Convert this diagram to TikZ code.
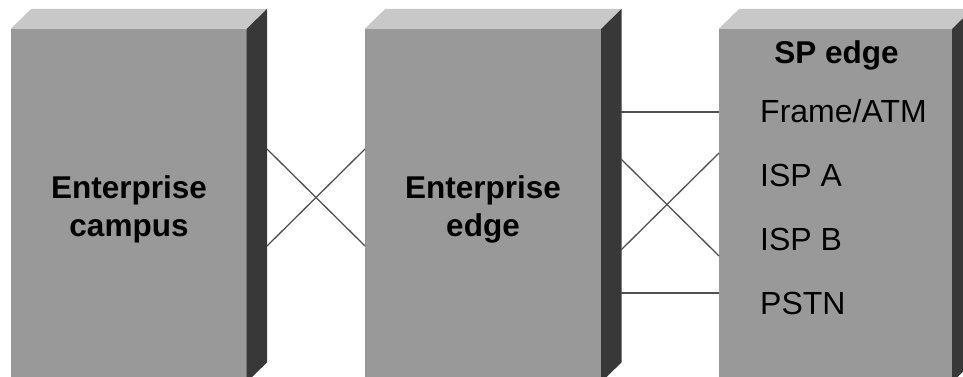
\documentclass[tikz,border=0pt]{standalone}
\usepackage{fontspec}
\setmainfont{Liberation Sans}
\begin{document}
\begin{tikzpicture}[x=1pt,y=-1pt,
  front/.style={fill=frontc,draw=none,inner sep=0pt,minimum height=353pt},
  topface/.style={fill=topc},
  sideface/.style={fill=sidec},
  link/.style={draw=linkc,line width=1.3pt},
  boldtxt/.style={font=\fontsize{31.5}{34}\selectfont\bfseries,inner sep=0pt,anchor=base},
  plaintxt/.style={font=\fontsize{32}{35}\selectfont,inner sep=0pt,anchor=base west}]
\definecolor{frontc}{HTML}{999999}
\definecolor{topc}{HTML}{C8C8C8}
\definecolor{sidec}{HTML}{383838}
\definecolor{linkc}{HTML}{505050}
\useasboundingbox (0,0) rectangle (963,377);
\clip (0,0) rectangle (963,377);
% boxes
\node[front,minimum width=235.5pt] (f1) at (128.75,205.5) {};
\node[front,minimum width=236pt] (f2) at (483,205.5) {};
\node[front,minimum width=233pt] (f3) at (835.5,205.5) {};
\foreach \b in {f1,f2,f3}{
  \fill[topface] (\b.north west) -- ++(20.5,-20) -- ([shift={(20.5,-20)}]\b.north east) -- (\b.north east) -- cycle;
  \fill[sideface] (\b.north east) -- ++(20.5,-20) -- ([shift={(20.5,-20)}]\b.south east) -- (\b.south east) -- cycle;
}
% connector end points
\coordinate (a1) at (267,149);
\coordinate (a2) at (267,246);
\coordinate (b1) at (365,149);
\coordinate (b2) at (365,246);
\coordinate (c0) at (621,112);
\coordinate (c1) at (621,159);
\coordinate (c2) at (621,250);
\coordinate (c3) at (621,293);
\coordinate (d0) at (719,112);
\coordinate (d1) at (719,153);
\coordinate (d2) at (719,256);
\coordinate (d3) at (719,293);
\draw[link] (a1) -- (b2);
\draw[link] (a2) -- (b1);
\draw[link] (c0) -- (d0);
\draw[link] (c1) -- (d2);
\draw[link] (c2) -- (d1);
\draw[link] (c3) -- (d3);
% texts
\node[boldtxt] (t1a) at (129,198) {Enterprise};
\node[boldtxt] (t1b) at (129,236.5) {campus};
\node[boldtxt] (t2a) at (483,198) {Enterprise};
\node[boldtxt] (t2b) at (483,236.5) {edge};
\node[boldtxt] (t3) at (836.5,64) {SP edge};
\node[plaintxt] (s1) at (760,122) {Frame/ATM};
\node[plaintxt] (s2) at (760,186) {ISP A};
\node[plaintxt] (s3) at (760,250) {ISP B};
\node[plaintxt] (s4) at (760,314) {PSTN};
\end{tikzpicture}
\end{document}
